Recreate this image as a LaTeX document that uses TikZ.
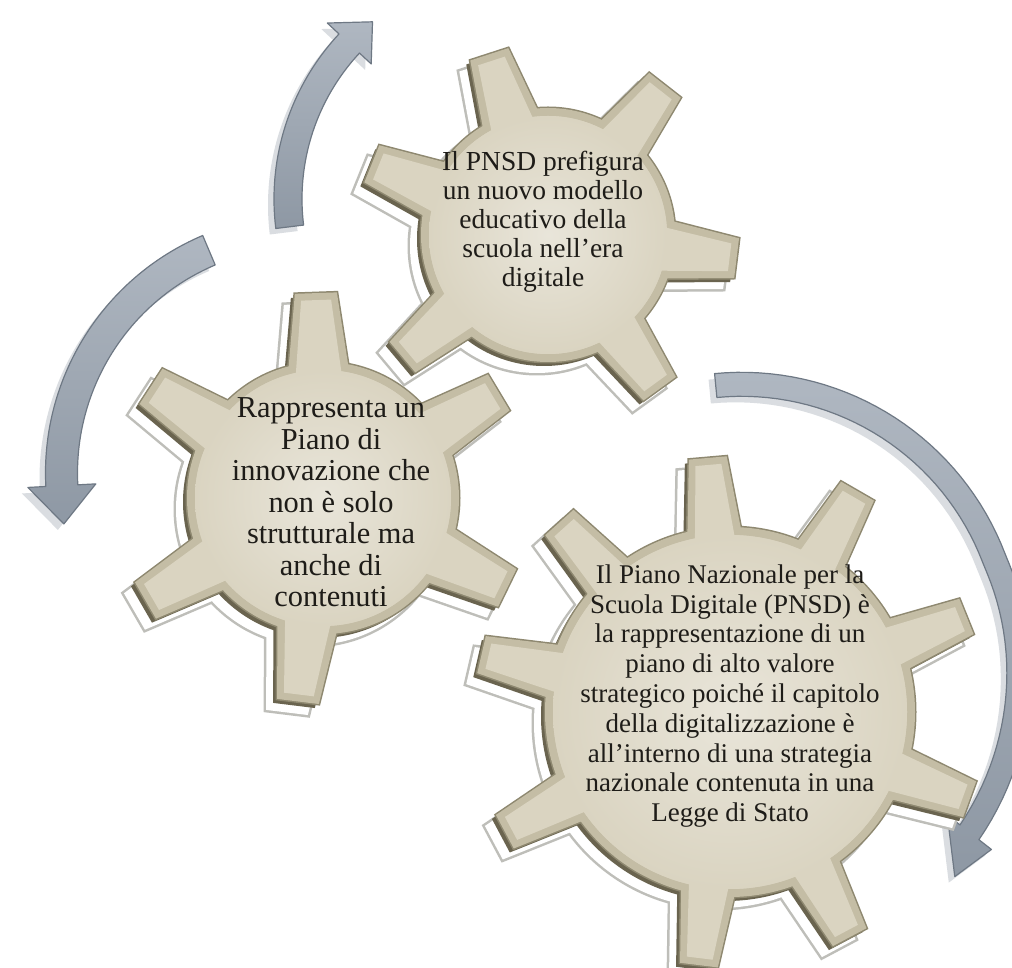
\documentclass[tikz,border=0pt]{standalone}
\usepackage{fontspec}
\setmainfont{Liberation Serif}
\begin{document}
\begin{tikzpicture}[x=1pt,y=1pt]
\definecolor{gearface}{HTML}{DAD4C1}
\definecolor{gearrim}{HTML}{C4BDA5}
\definecolor{gearedge}{HTML}{8E8870}
\definecolor{geardeep}{HTML}{6A644F}
\definecolor{ghostline}{HTML}{BEBEB9}
\definecolor{arrowfill}{HTML}{8E98A4}
\definecolor{arrowlight}{HTML}{AFB7C1}
\definecolor{arrowedge}{HTML}{6E7884}
\definecolor{arrowshadow}{HTML}{DADDE1}
\definecolor{inktext}{HTML}{1E1C18}
\tikzset{
  arrowbody/.style={top color=arrowlight, bottom color=arrowfill, draw=arrowedge, line width=1.2pt, line join=round},
  arrowhalo/.style={fill=arrowshadow},
  geartext/.style={align=center, text=inktext, inner sep=0pt}
}

% body circle and teeth of one gear, each piece drawn with the given options
\newcommand{\gearpieces}[7]{%
  \path[#7] #1 circle ({#2});
  \foreach \ta in {#6} {
    \path[#7, shift={#1}, rotate=\ta] ({#2-14},{-(#4)}) -- ({#3},{-(#5)}) -- ({#3},{#5}) -- ({#2-14},{#4}) -- cycle;
  }%
}
% a bevelled gear: x, y, body radius, tip radius, base half-width, tip half-width, tooth angles
\newcommand{\gear}[7]{%
  \gearpieces{({#1-11},{#2-11})}{#3}{#4}{#5}{#6}{#7}{draw=ghostline, line width=5pt}
  \gearpieces{({#1-11},{#2-11})}{#3}{#4}{#5}{#6}{#7}{fill=white}
  \gearpieces{({#1-4},{#2-4})}{#3}{#4}{#5}{#6}{#7}{fill=geardeep}
  \gearpieces{(#1,#2)}{#3}{#4}{#5}{#6}{#7}{draw=gearedge, line width=3pt}
  \gearpieces{(#1,#2)}{#3}{#4}{#5}{#6}{#7}{fill=gearrim}
  \gearpieces{(#1,#2)}{#3-8}{#4-7}{#5-7}{#6-6}{#7}{fill=gearface}
  \shade[inner color=gearface!60!white, outer color=gearface] (#1,#2) circle ({#3-8});
}

% curved arrows
\newcommand{\arrowA}[1]{%
  \path[#1, shift={(516,768)}] (187:242) arc[start angle=187, end angle=137, radius=242]
    -- (137:258) -- (129:228) -- (137:198) -- (137:214)
    arc[start angle=137, end angle=187, radius=214] -- cycle;}
\newcommand{\arrowB}[1]{%
  \path[#1, shift={(303.5,494)}] (113:258) arc[start angle=113, end angle=183, radius=258]
    -- (183:276) -- (192:245) -- (183:208) -- (183:226)
    arc[start angle=183, end angle=113, radius=226] -- cycle;}
\newcommand{\arrowC}[1]{%
  \path[#1, shift={(741.6,312.7)}]
    plot[domain=95.5:-38, samples=60, variable=\t] (\t:{282+0.33*max(0,20-(\t))})
    -- (-38:317) -- (-46.2:308) -- (-38:261)
    -- plot[domain=-38:95.5, samples=60, variable=\t] (\t:{258+0.33*max(0,20-(\t))})
    -- cycle;}

\useasboundingbox (0,0) rectangle (1012,967);
\fill[white] (0,0) rectangle (1012,967);

\arrowA{arrowhalo, shift={(-6,-6)}}
\arrowB{arrowhalo, shift={(-6,-6)}}
\arrowC{arrowhalo, shift={(-6,-6)}}
\arrowA{arrowbody}
\arrowB{arrowbody}
\arrowC{arrowbody}

% gears
\gear{548}{732}{127}{190}{30}{20}{108,52,-7,-54,-140,158}
\gear{323}{469}{136}{205}{31}{21}{92,31,-26,-97,-150,147}
\gear{730}{255}{185}{255}{28}{19}{167,132,95,60,22,-20,-62,-97,-152}

\node[geartext, font=\fontsize{27.5}{29}\selectfont] (topgear) at (543,745)
  {Il PNSD prefigura\\un nuovo modello\\educativo della\\scuola nell’era\\digitale};
\node[geartext, font=\fontsize{30.4}{31.5}\selectfont] (leftgear) at (331,464.5)
  {Rappresenta un\\Piano di\\innovazione che\\non è solo\\strutturale ma\\anche di\\contenuti};
\node[geartext, font=\fontsize{27}{29.8}\selectfont] (biggear) at (730,271)
  {Il Piano Nazionale per la\\Scuola Digitale (PNSD) è\\la rappresentazione di un\\piano di alto valore\\strategico poiché il capitolo\\della digitalizzazione è\\all’interno di una strategia\\nazionale contenuta in una\\Legge di Stato};
\end{tikzpicture}
\end{document}
